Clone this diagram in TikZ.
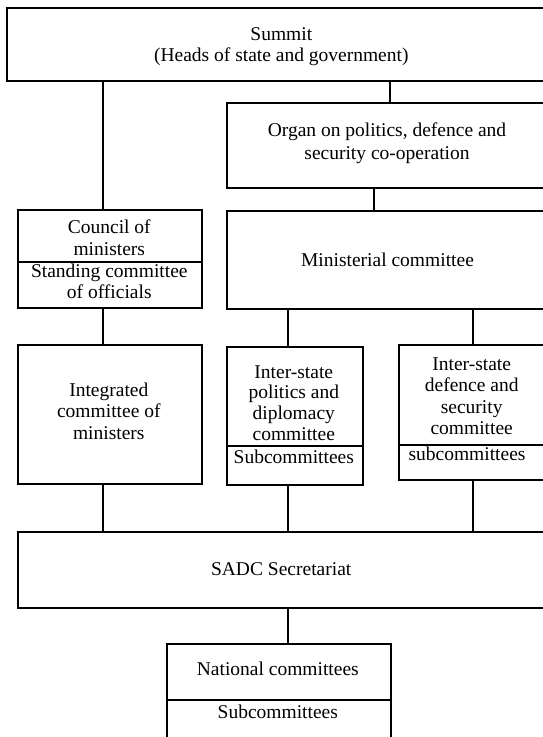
\documentclass[tikz,border=0pt]{standalone}
\usepackage{fontspec}
\setmainfont{Liberation Serif}
\begin{document}
\begin{tikzpicture}[x=1pt,y=-1pt,
  box/.style={draw,line width=2pt,inner sep=0pt,anchor=north west},
  txt/.style={anchor=base,inner sep=0pt,font=\fontsize{19.5}{21.5}\selectfont},
  conn/.style={line width=2pt}]
\useasboundingbox (0,0) rectangle (543,737);
\clip (0,0) rectangle (543,737);
% boxes
\node[box,minimum width=551.5pt,minimum height=73.3pt] (summit) at (5.8,7) {};
\node[box,minimum width=322pt,minimum height=85pt] (organ) at (226,101.7) {};
\node[box,minimum width=184.3pt,minimum height=98.2pt] (council) at (16.7,209.2) {};
\node[box,minimum width=323pt,minimum height=98.3pt] (minist) at (226,210) {};
\node[box,minimum width=184.3pt,minimum height=138.4pt] (integ) at (16.7,344.3) {};
\node[box,minimum width=135.7pt,minimum height=138pt] (polit) at (226,346) {};
\node[box,minimum width=148pt,minimum height=134.7pt] (defen) at (398.2,344.3) {};
\node[box,minimum width=529.3pt,minimum height=76.3pt] (sadc) at (16.7,531) {};
\node[box,minimum width=224.7pt,minimum height=102pt] (natl) at (165.5,642.7) {};
% dividers
\draw[conn] (council.west |- 0,261.7) -- (council.east |- 0,261.7);
\draw[conn] (polit.west |- 0,446) -- (polit.east |- 0,446);
\draw[conn] (defen.west |- 0,445) -- (defen.east |- 0,445);
\draw[conn] (natl.west |- 0,700) -- (natl.east |- 0,700);
% connector columns
\coordinate (xA) at (102.7,0);
\coordinate (xB) at (389.5,0);
\coordinate (xC) at (374,0);
\coordinate (xD) at (288,0);
\coordinate (xE) at (473.3,0);
\draw[conn] (summit.south -| xA) -- (council.north -| xA);
\draw[conn] (council.south -| xA) -- (integ.north -| xA);
\draw[conn] (integ.south -| xA) -- (sadc.north -| xA);
\draw[conn] (summit.south -| xB) -- (organ.north -| xB);
\draw[conn] (organ.south -| xC) -- (minist.north -| xC);
\draw[conn] (minist.south -| xD) -- (polit.north -| xD);
\draw[conn] (polit.south -| xD) -- (sadc.north -| xD);
\draw[conn] (sadc.south -| xD) -- (natl.north -| xD);
\draw[conn] (minist.south -| xE) -- (defen.north -| xE);
\draw[conn] (defen.south -| xE) -- (sadc.north -| xE);
% texts
\node[txt] (t1a) at (281.3,40) {Summit};
\node[txt] (t1b) at (281.3,61.7) {(Heads of state and government)};
\node[txt] (t2a) at (387,136.5) {Organ on politics, defence and};
\node[txt] (t2b) at (387,159) {security co-operation};
\node[txt] (t3a) at (109.3,233.3) {Council of};
\node[txt] (t3b) at (109.3,255) {ministers};
\node[txt] (t3c) at (109.3,277.3) {Standing committee};
\node[txt] (t3d) at (109.3,298.3) {of officials};
\node[txt] (t4) at (387.5,266) {Ministerial committee};
\node[txt] (t5a) at (108.8,396) {Integrated};
\node[txt] (t5b) at (108.8,417.5) {committee of};
\node[txt] (t5c) at (108.8,439) {ministers};
\node[txt] (t6a) at (293.8,378.3) {Inter-state};
\node[txt] (t6b) at (293.8,398.5) {politics and};
\node[txt] (t6c) at (293.8,419) {diplomacy};
\node[txt] (t6d) at (293.8,440) {committee};
\node[txt] (t6e) at (293.8,463.5) {Subcommittees};
\node[txt] (t7a) at (471.7,370) {Inter-state};
\node[txt] (t7b) at (471.7,391.5) {defence and};
\node[txt] (t7c) at (471.7,413) {security};
\node[txt] (t7d) at (471.7,434.5) {committee};
\node[txt] (t7e) at (467,460.5) {subcommittees};
\node[txt] (t8) at (281.2,575) {SADC Secretariat};
\node[txt] (t9a) at (277.8,675) {National committees};
\node[txt] (t9b) at (277.8,718) {Subcommittees};
\end{tikzpicture}
\end{document}
